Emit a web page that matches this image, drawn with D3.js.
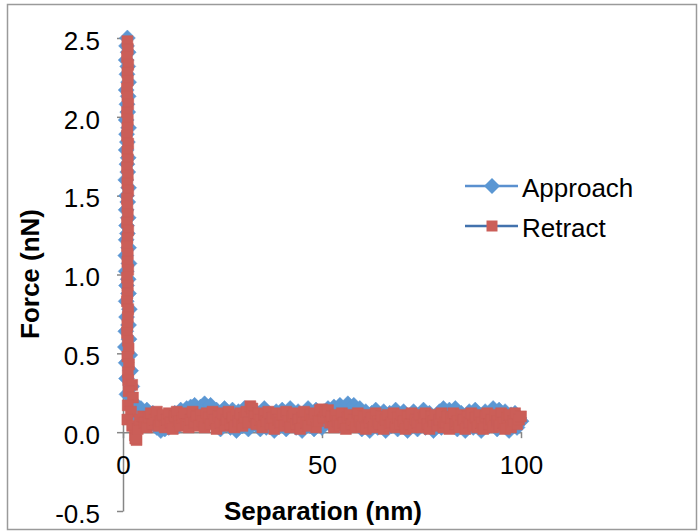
<!DOCTYPE html>
<html lang="en">

<head>
    <meta charset="utf-8">
    <title>Force curve</title>
    <script src="https://d3js.org/d3.v7.min.js"></script>
    <style>
        body { margin: 0; background: #fff; }
        text { font-family: "Liberation Sans", Arial, sans-serif; }
    </style>
</head>

<body>
    <script>
        // approach curve: vertical contact part, then the flat part
        const approachSep = [
            1.1, 0.9, 1.3, 0.8, 1.2, 1.0, 1.4, 0.8, 1.3, 1.0,
            1.2, 0.8, 1.4, 0.9, 1.1, 0.8, 1.3, 1.0, 1.2, 0.7,
            1.4, 0.9, 1.2, 0.8, 1.3, 0.9, 1.1, 0.8, 1.4, 0.7,
            1.5, 0.8, 1.3, 0.9, 1.4, 0.8, 1.6, 0.9, 1.4, 0.7,
            1.5, 0.6, 1.7, 0.8, 1.9, 0.9, 2.2, 1.0, 2.6,
            3, 3.5, 4, 4.5, 5, 5.5, 6, 6.5, 7, 7.5,
            8, 8.5, 9, 9.5, 10, 10.5, 11, 11.5, 12, 12.5,
            13, 13.5, 14, 14.5, 15, 15.5, 16, 16.5, 17, 17.5,
            18, 18.5, 19, 19.5, 20, 20.5, 21, 21.5, 22, 22.5,
            23, 23.5, 24, 24.5, 25, 25.5, 26, 26.5, 27, 27.5,
            28, 28.5, 29, 29.5, 30, 30.5, 31, 31.5, 32, 32.5,
            33, 33.5, 34, 34.5, 35, 35.5, 36, 36.5, 37, 37.5,
            38, 38.5, 39, 39.5, 40, 40.5, 41, 41.5, 42, 42.5,
            43, 43.5, 44, 44.5, 45, 45.5, 46, 46.5, 47, 47.5,
            48, 48.5, 49, 49.5, 50, 50.5, 51, 51.5, 52, 52.5,
            53, 53.5, 54, 54.5, 55, 55.5, 56, 56.5, 57, 57.5,
            58, 58.5, 59, 59.5, 60, 60.5, 61, 61.5, 62, 62.5,
            63, 63.5, 64, 64.5, 65, 65.5, 66, 66.5, 67, 67.5,
            68, 68.5, 69, 69.5, 70, 70.5, 71, 71.5, 72, 72.5,
            73, 73.5, 74, 74.5, 75, 75.5, 76, 76.5, 77, 77.5,
            78, 78.5, 79, 79.5, 80, 80.5, 81, 81.5, 82, 82.5,
            83, 83.5, 84, 84.5, 85, 85.5, 86, 86.5, 87, 87.5,
            88, 88.5, 89, 89.5, 90, 90.5, 91, 91.5, 92, 92.5,
            93, 93.5, 94, 94.5, 95, 95.5, 96, 96.5, 97, 97.5,
            98, 98.5, 99, 99.5, 100
        ];
        const approachForce = [
            2.50, 2.45, 2.41, 2.36, 2.32, 2.27, 2.22, 2.17, 2.13, 2.08,
            2.03, 1.98, 1.93, 1.89, 1.84, 1.79, 1.74, 1.70, 1.65, 1.60,
            1.55, 1.50, 1.46, 1.41, 1.36, 1.31, 1.26, 1.22, 1.17, 1.12,
            1.07, 1.02, 0.97, 0.93, 0.88, 0.83, 0.78, 0.73, 0.68, 0.64,
            0.59, 0.54, 0.49, 0.44, 0.39, 0.34, 0.29, 0.24, 0.19,
            0.16, 0.12, 0.09, 0.15, 0.11, 0.07, 0.14, 0.10, 0.05, 0.12,
            0.06, 0.03, 0.09, 0.01, 0.04, 0.02, 0.07, 0.03, 0.10, 0.05,
            0.12, 0.08, 0.04, 0.14, 0.10, 0.06, 0.15, 0.11, 0.16, 0.09,
            0.17, 0.12, 0.07, 0.16, 0.10, 0.18, 0.13, 0.08, 0.17, 0.11,
            0.05, 0.14, 0.09, 0.02, 0.12, 0.15, 0.06, 0.10, 0.03, 0.14,
            0.08, 0.01, 0.13, 0.10, 0.04, 0.15, 0.07, 0.02, 0.12, 0.09,
            0.14, 0.05, 0.11, 0.02, 0.08, 0.15, 0.03, 0.12, 0.06, 0.10,
            0.01, 0.13, 0.08, 0.04, 0.14, 0.09, 0.02, 0.11, 0.15, 0.05,
            0.10, 0.03, 0.13, 0.07, 0.01, 0.12, 0.09, 0.15, 0.04, 0.08,
            0.02, 0.14, 0.06, 0.11, 0.03, 0.13, 0.08, 0.15, 0.05, 0.10,
            0.16, 0.07, 0.12, 0.17, 0.04, 0.14, 0.10, 0.18, 0.08, 0.13,
            0.17, 0.06, 0.11, 0.15, 0.02, 0.09, 0.13, 0.05, 0.01, 0.12,
            0.08, 0.14, 0.03, 0.10, 0.06, 0.13, 0.01, 0.09, 0.12, 0.04,
            0.07, 0.14, 0.02, 0.11, 0.05, 0.13, 0.08, 0.01, 0.10, 0.04,
            0.13, 0.06, 0.02, 0.11, 0.08, 0.14, 0.03, 0.09, 0.12, 0.05,
            0.01, 0.10, 0.07, 0.13, 0.03, 0.15, 0.09, 0.05, 0.14, 0.11,
            0.06, 0.15, 0.02, 0.09, 0.12, 0.04, 0.01, 0.10, 0.13, 0.07,
            0.03, 0.14, 0.08, 0.11, 0.01, 0.06, 0.13, 0.09, 0.04, 0.12,
            0.15, 0.07, 0.02, 0.14, 0.10, 0.05, 0.13, 0.08, 0.01, 0.11,
            0.06, 0.12, 0.03, 0.09, 0.07
        ];

        // retract curve
        const retractSep = [
            1.1, 1.2, 1.0, 1.3, 1.1, 1.2, 1.0, 1.1, 1.3, 1.0,
            1.2, 1.1, 1.0, 1.3, 1.1, 1.2, 1.0, 1.2, 1.1, 1.3,
            1.0, 1.1, 1.2, 1.0, 1.3, 1.1, 1.0, 1.2, 1.1, 1.3,
            1.0, 1.2, 1.1, 1.0, 1.3, 1.2, 1.1, 1.0, 1.2, 1.4,
            1.1, 1.5, 1.2,
            1.3, 2.3, 1.4, 2.5, 1.2, 2.0, 1.1, 2.3, 3.0, 3.4, 3.1, 3.7, 4.2,
            5, 5.5, 6, 6.5, 7, 7.5, 8, 8.5, 9, 9.5,
            10, 10.5, 11, 11.5, 12, 12.5, 13, 13.5, 14, 14.5,
            15, 15.5, 16, 16.5, 17, 17.5, 18, 18.5, 19, 19.5,
            20, 20.5, 21, 21.5, 22, 22.5, 23, 23.5, 24, 24.5,
            25, 25.5, 26, 26.5, 27, 27.5, 28, 28.5, 29, 29.5,
            30, 30.5, 31, 31.5, 32, 32.5, 33, 33.5, 34, 34.5,
            35, 35.5, 36, 36.5, 37, 37.5, 38, 38.5, 39, 39.5,
            40, 40.5, 41, 41.5, 42, 42.5, 43, 43.5, 44, 44.5,
            45, 45.5, 46, 46.5, 47, 47.5, 48, 48.5, 49, 49.5,
            50, 50.5, 51, 51.5, 52, 52.5, 53, 53.5, 54, 54.5,
            55, 55.5, 56, 56.5, 57, 57.5, 58, 58.5, 59, 59.5,
            60, 60.5, 61, 61.5, 62, 62.5, 63, 63.5, 64, 64.5,
            65, 65.5, 66, 66.5, 67, 67.5, 68, 68.5, 69, 69.5,
            70, 70.5, 71, 71.5, 72, 72.5, 73, 73.5, 74, 74.5,
            75, 75.5, 76, 76.5, 77, 77.5, 78, 78.5, 79, 79.5,
            80, 80.5, 81, 81.5, 82, 82.5, 83, 83.5, 84, 84.5,
            85, 85.5, 86, 86.5, 87, 87.5, 88, 88.5, 89, 89.5,
            90, 90.5, 91, 91.5, 92, 92.5, 93, 93.5, 94, 94.5,
            95, 95.5, 96, 96.5, 97, 97.5, 98, 98.5, 99, 99.5,
            100
        ];
        const retractForce = [
            2.48, 2.43, 2.38, 2.33, 2.28, 2.23, 2.18, 2.13, 2.08, 2.03,
            1.98, 1.93, 1.88, 1.83, 1.78, 1.73, 1.68, 1.63, 1.58, 1.53,
            1.48, 1.43, 1.38, 1.33, 1.28, 1.23, 1.18, 1.13, 1.08, 1.03,
            0.98, 0.93, 0.88, 0.83, 0.78, 0.73, 0.68, 0.63, 0.58, 0.53,
            0.48, 0.43, 0.38,
            0.33, 0.30, 0.26, 0.22, 0.17, 0.13, 0.08, 0.04, -0.02, -0.05, -0.04, 0.02, 0.08,
            0.10, 0.06, 0.03, 0.09, 0.12, 0.05, 0.08, 0.13, 0.04, 0.07,
            0.11, 0.03, 0.08, 0.12, 0.06, 0.02, 0.10, 0.13, 0.07, 0.04,
            0.09, 0.12, 0.05, 0.03, 0.08, 0.13, 0.06, 0.10, 0.04, 0.11,
            0.07, 0.03, 0.12, 0.09, 0.05, 0.13, 0.08, 0.02, 0.10, 0.06,
            0.12, 0.04, 0.08, 0.13, 0.05, 0.09, 0.03, 0.11, 0.07, 0.12,
            0.04, 0.09, 0.13, 0.06, 0.165, 0.15, 0.10, 0.05, 0.12, 0.08,
            0.03, 0.11, 0.07, 0.13, 0.05, 0.09, 0.02, 0.12, 0.08, 0.06,
            0.11, 0.04, 0.13, 0.07, 0.03, 0.10, 0.12, 0.05, 0.08, 0.02,
            0.09, 0.13, 0.06, 0.04, 0.11, 0.08, 0.12, 0.03, 0.07, 0.14,
            0.145, 0.09, 0.13, 0.14, 0.06, 0.10, 0.03, 0.11, 0.07, 0.04,
            0.12, 0.06, 0.02, 0.09, 0.11, 0.05, 0.08, 0.03, 0.12, 0.07,
            0.04, 0.10, 0.02, 0.11, 0.06, 0.09, 0.03, 0.12, 0.07, 0.05,
            0.10, 0.02, 0.08, 0.11, 0.04, 0.06, 0.12, 0.03, 0.09, 0.05,
            0.11, 0.07, 0.02, 0.10, 0.05, 0.12, 0.03, 0.08, 0.06, 0.11,
            0.03, 0.09, 0.12, 0.05, 0.02, 0.10, 0.07, 0.11, 0.04, 0.08,
            0.12, 0.03, 0.06, 0.10, 0.02, 0.09, 0.12, 0.05, 0.07, 0.03,
            0.11, 0.08, 0.02, 0.10, 0.06, 0.12, 0.04, 0.09, 0.03, 0.11,
            0.06, 0.02, 0.10, 0.12, 0.05, 0.08, 0.03, 0.11, 0.07, 0.04,
            0.12, 0.06, 0.02, 0.09, 0.11, 0.03, 0.07, 0.12, 0.05, 0.08,
            0.10
        ];

        const xTicks = [0, 50, 100];
        const yTicks = [-0.5, 0, 0.5, 1.0, 1.5, 2.0, 2.5];
        const seriesNames = ["Approach", "Retract"];

        const width = 698;
        const height = 531;
        const plot = { left: 123, right: 521, top: 38, bottom: 511 };
        const axisColor = "#868686";

        const svg = d3.select("body")
            .append("svg")
            .attr("width", width)
            .attr("height", height);

        // chart border
        svg.append("rect")
            .attr("x", 7.5).attr("y", 4.5)
            .attr("width", 689).attr("height", 525)
            .attr("fill", "#fff")
            .attr("stroke", "#9a9a9a")
            .attr("stroke-width", 1.5);

        const x = d3.scaleLinear().domain([0, 100]).range([plot.left, plot.right]);
        const y = d3.scaleLinear().domain([-0.5, 2.5]).range([plot.bottom, plot.top]);

        // y axis
        const yAxis = svg.append("g")
            .attr("transform", "translate(" + x(0) + ",0)")
            .call(d3.axisLeft(y).tickValues(yTicks).tickSize(6).tickSizeOuter(0)
                .tickPadding(17).tickFormat(d => d.toFixed(1)));

        // x axis crosses at force 0
        const xAxis = svg.append("g")
            .attr("transform", "translate(0," + y(0) + ")")
            .call(d3.axisBottom(x).tickValues(xTicks).tickSize(6).tickSizeOuter(0)
                .tickPadding(17).tickFormat(d3.format("d")));

        [xAxis, yAxis].forEach(g => {
            g.select(".domain").attr("stroke", axisColor).attr("stroke-width", 1.5);
            g.selectAll(".tick line").attr("stroke", axisColor).attr("stroke-width", 1.5);
            g.selectAll("text")
                .attr("fill", "#000")
                .style("font-size", "26px")
                .style("font-family", "'Liberation Sans', Arial, sans-serif");
        });
        yAxis.selectAll("text").attr("dy", "0.43em");

        // axis titles
        svg.append("text")
            .attr("x", 323).attr("y", 520)
            .attr("text-anchor", "middle")
            .style("font-size", "26px").style("font-weight", "bold")
            .text("Separation (nm)");

        svg.append("text")
            .attr("transform", "translate(39,274) rotate(-90)")
            .attr("text-anchor", "middle")
            .style("font-size", "26px").style("font-weight", "bold")
            .text("Force (nN)");

        const series = [
            { name: seriesNames[0], sep: approachSep, force: approachForce,
              line: "#5a90cf", fill: "#5b97d3", symbol: d3.symbolSquare, size: 128, rot: 45 },
            { name: seriesNames[1], sep: retractSep, force: retractForce,
              line: "#4272ad", fill: "#cb5e58", symbol: d3.symbolSquare, size: 121, rot: 0 }
        ];

        const line = d3.line().x(d => x(d[0])).y(d => y(d[1]));

        series.forEach(s => {
            const pts = s.sep.map((v, i) => [v, s.force[i]]);
            svg.append("path")
                .datum(pts)
                .attr("d", line)
                .attr("fill", "none")
                .attr("stroke", s.line)
                .attr("stroke-width", 2.5);

            svg.append("g")
                .selectAll("path")
                .data(pts)
                .enter()
                .append("path")
                .attr("d", d3.symbol().type(s.symbol).size(s.size))
                .attr("transform", d => "translate(" + x(d[0]) + "," + y(d[1]) + ") rotate(" + s.rot + ")")
                .attr("fill", s.fill)
                .attr("stroke", s.fill)
                .attr("stroke-width", 0.5);
        });

        // legend
        const legend = svg.append("g").attr("transform", "translate(465,186)");
        series.forEach((s, i) => {
            const g = legend.append("g").attr("transform", "translate(0," + i * 40 + ")");
            g.append("line")
                .attr("x1", 0).attr("x2", 53)
                .attr("stroke", s.line).attr("stroke-width", 2.5);
            g.append("path")
                .attr("d", d3.symbol().type(s.symbol).size(s.size))
                .attr("transform", "translate(27,0) rotate(" + s.rot + ")")
                .attr("fill", s.fill);
            g.append("text")
                .attr("x", 57).attr("y", 2)
                .attr("dy", "0.35em")
                .style("font-size", "26px")
                .text(s.name);
        });
    </script>
</body>

</html>
